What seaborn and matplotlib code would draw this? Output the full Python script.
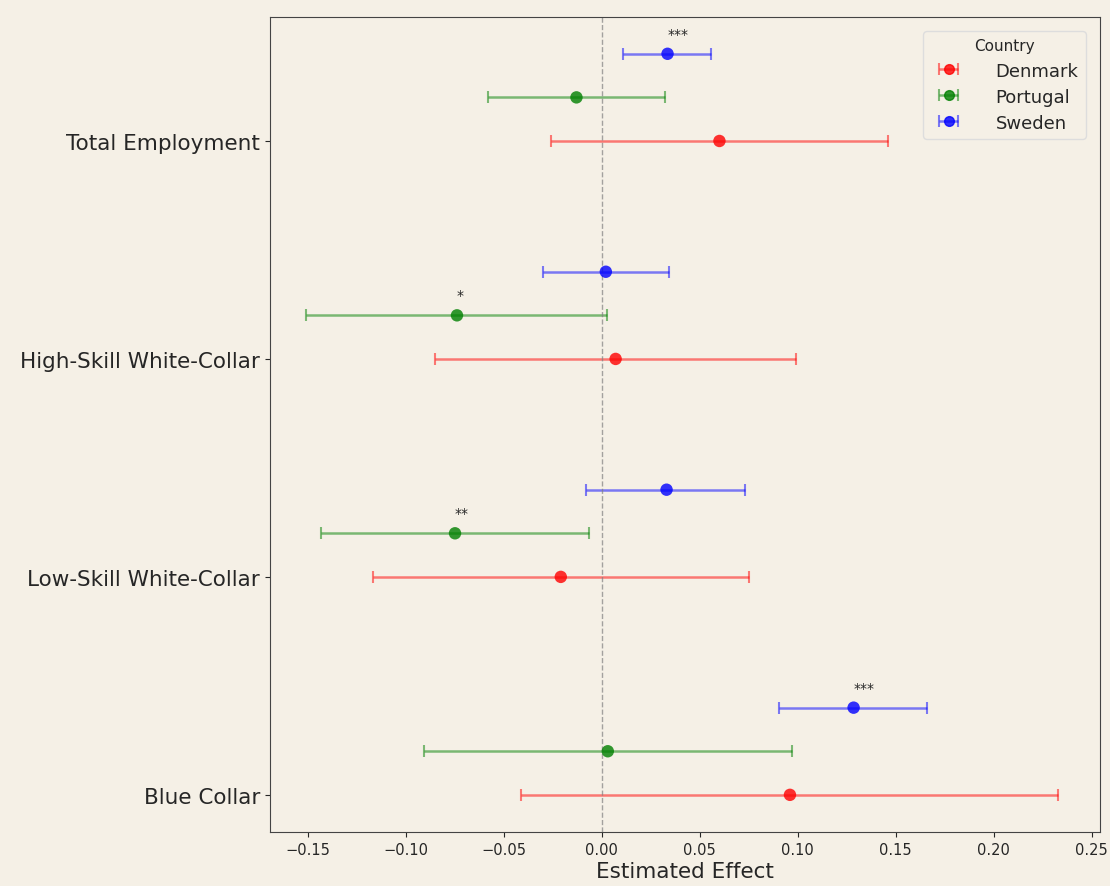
import seaborn as sns
import matplotlib.pyplot as plt
import pandas as pd
from matplotlib.lines import Line2D

# Categories top to bottom
categories = ['Total Employment', 'High-Skill White-Collar', 'Low-Skill White-Collar', 'Blue Collar']
countries = ['Denmark', 'Portugal', 'Sweden']

# Point estimates per country (same order as categories)
denmark_est = [0.060, 0.007, -0.021, 0.096]
portugal_est = [-0.013, -0.074, -0.075, 0.003]
sweden_est = [0.0335, 0.002, 0.033, 0.1285]

# Confidence interval bounds
denmark_lo = [-0.026, -0.085, -0.117, -0.0415]
denmark_hi = [0.146, 0.099, 0.075, 0.233]
portugal_lo = [-0.058, -0.151, -0.1435, -0.091]
portugal_hi = [0.032, 0.0025, -0.0065, 0.0968]
sweden_lo = [0.011, -0.030, -0.008, 0.0905]
sweden_hi = [0.0555, 0.034, 0.073, 0.166]

# Significance stars
denmark_sig = ['', '', '', '']
portugal_sig = ['', '*', '**', '']
sweden_sig = ['***', '', '', '***']

country_colors = {'Denmark': 'red', 'Portugal': 'green', 'Sweden': 'blue'}
offsets = {'Denmark': 0.0, 'Portugal': 0.2, 'Sweden': 0.4}

rows = []
for country, est, lo, hi, sig in [
    ('Denmark', denmark_est, denmark_lo, denmark_hi, denmark_sig),
    ('Portugal', portugal_est, portugal_lo, portugal_hi, portugal_sig),
    ('Sweden', sweden_est, sweden_lo, sweden_hi, sweden_sig),
]:
    for i, cat in enumerate(categories):
        rows.append({'country': country, 'category': cat, 'est': est[i],
                     'lo': lo[i], 'hi': hi[i], 'sig': sig[i],
                     'y': len(categories) - 1 - i + offsets[country]})
df = pd.DataFrame(rows)

bg = '#F5F0E6'
sns.set_style('ticks', {'axes.facecolor': bg, 'figure.facecolor': bg})

fig, ax = plt.subplots(figsize=(11.1, 8.87), dpi=100)
fig.subplots_adjust(left=0.243, right=0.991, top=0.980, bottom=0.061)

handles = []
for country in countries:
    sub = df[df['country'] == country]
    c = country_colors[country]
    eb = ax.errorbar(sub['est'], sub['y'],
                     xerr=[sub['est'] - sub['lo'], sub['hi'] - sub['est']],
                     fmt='none', ecolor=c, alpha=0.5, elinewidth=1.8,
                     capsize=4, capthick=1.5)
    mk = Line2D([], [], marker='o', color=c, alpha=0.8, linestyle='none', markersize=7)
    handles.append((eb, mk))

sns.scatterplot(data=df, x='est', y='y', hue='country', palette=country_colors,
                s=80, alpha=0.8, edgecolor='none', legend=False, ax=ax, zorder=3)

for _, r in df.iterrows():
    if r['sig']:
        ax.text(r['est'], r['y'] + 0.06, r['sig'], ha='left', va='bottom', fontsize=10)

ax.axvline(0, color='gray', linestyle='--', linewidth=1, alpha=0.7)

ax.set_xlim(-0.1696, 0.2543)
ax.set_yticks([len(categories) - 1 - i for i in range(len(categories))])
ax.set_yticklabels(categories, fontsize=15.5)
ax.tick_params(axis='x', labelsize=10.5)
ax.set_xlabel('Estimated Effect', fontsize=15.5, labelpad=3)
ax.set_ylabel('')

for s in ax.spines.values():
    s.set_visible(True)
    s.set_color('#444444')

leg = ax.legend(handles, countries, title='Country', loc='upper right',
                fontsize=13, title_fontsize=11, facecolor=bg, framealpha=1,
                handletextpad=1.6, borderaxespad=0.8, labelspacing=0.45)
leg.get_frame().set_edgecolor('#dddddd')

fig.savefig('out.png', dpi=100, facecolor=bg)
